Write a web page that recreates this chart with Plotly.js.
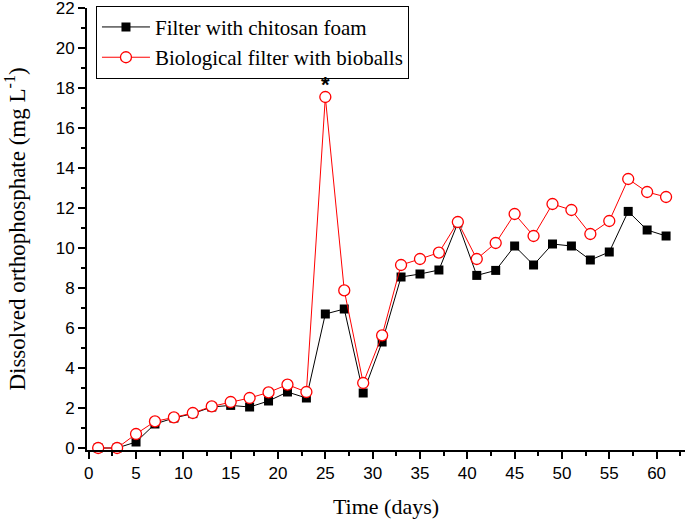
<!DOCTYPE html>
<html>
<head>
<meta charset="utf-8">
<script src="https://cdn.plot.ly/plotly-3.0.1.min.js"></script>
<style>html,body{margin:0;padding:0;background:#fff;}#chart{width:685px;height:519px;}</style>
</head>
<body>
<div id="chart"></div>
<script>
const days = [1,3,5,7,9,11,13,15,17,19,21,23,25,27,29,31,33,35,37,39,41,43,45,47,49,51,53,55,57,59,61];
const chitosanFoam = [0,0,0.3,1.2,1.5,1.72,2.05,2.13,2.05,2.35,2.8,2.5,6.7,6.95,2.75,5.3,8.55,8.7,8.9,11.25,8.63,8.88,10.1,9.15,10.2,10.1,9.4,9.8,11.83,10.9,10.6];
const bioballs = [0,0,0.7,1.33,1.53,1.75,2.08,2.3,2.5,2.78,3.17,2.8,17.55,7.88,3.25,5.63,9.15,9.45,9.77,11.3,9.45,10.25,11.7,10.6,12.2,11.9,10.7,11.35,13.45,12.8,12.55];
const seriesNames = ["Filter with chitosan foam","Biological filter with bioballs"];
const xTicks = [0,5,10,15,20,25,30,35,40,45,50,55,60];
const yTicks = [0,2,4,6,8,10,12,14,16,18,20,22];
const peakDay = 25, peakMark = "<b>*</b>";

const traces = [
  {x: days, y: chitosanFoam, name: seriesNames[0], type: 'scatter', mode: 'lines+markers',
   line: {color: '#000', width: 1}, marker: {symbol: 'square', size: 9, color: '#000'}, cliponaxis: false},
  {x: days, y: bioballs, name: seriesNames[1], type: 'scatter', mode: 'lines+markers',
   line: {color: '#ff0000', width: 1}, marker: {symbol: 'circle', size: 11, color: '#fff', line: {color: '#ff0000', width: 1.3}}, cliponaxis: false}
];

const axisFont = {family: 'Liberation Sans, Arial, sans-serif', size: 17, color: '#000'};
const serif = 'Liberation Serif, Times New Roman, serif';
const layout = {
  width: 685, height: 519,
  margin: {l: 87, r: 0, t: 8, b: 69},
  paper_bgcolor: '#fff', plot_bgcolor: '#fff',
  showlegend: true,
  legend: {x: 0.015, y: 1.005, xanchor: 'left', yanchor: 'top', bgcolor: '#fff', bordercolor: '#000', borderwidth: 1,
           itemwidth: 48, font: {family: serif, size: 21, color: '#000'}, tracegroupgap: 0},
  xaxis: {range: [-0.18, 63], tickvals: xTicks, ticks: 'outside', ticklen: 7, tickwidth: 2, tickcolor: '#000',
          showline: true, linewidth: 2, linecolor: '#000', showgrid: false, zeroline: false, tickfont: axisFont,
          ticklabeloverflow: 'allow',
          minor: {dtick: 2.5, tick0: 0, ticks: 'outside', ticklen: 4, tickwidth: 2, tickcolor: '#000'},
          title: {text: 'Time (days)', font: {family: serif, size: 22, color: '#000'}, standoff: 18},
          automargin: false},
  yaxis: {range: [-0.1, 22], tickvals: yTicks, ticks: 'outside', ticklen: 7, tickwidth: 2, tickcolor: '#000',
          showline: true, linewidth: 2, linecolor: '#000', showgrid: false, zeroline: false, tickfont: axisFont,
          ticklabeloverflow: 'allow',
          minor: {dtick: 1, tick0: 0, ticks: 'outside', ticklen: 4, tickwidth: 2, tickcolor: '#000'},
          title: {text: 'Dissolved orthophosphate (mg L<sup>-1</sup>)', font: {family: serif, size: 23, color: '#000'}, standoff: 24},
          automargin: false},
  annotations: [
    {x: peakDay, y: bioballs[days.indexOf(peakDay)], xref: 'x', yref: 'y', text: peakMark, showarrow: false,
     yshift: 13, font: {family: 'Liberation Sans, Arial, sans-serif', size: 22, color: '#000'}}
  ]
};
Plotly.newPlot('chart', traces, layout, {displayModeBar: false, staticPlot: true});
</script>
</body>
</html>
